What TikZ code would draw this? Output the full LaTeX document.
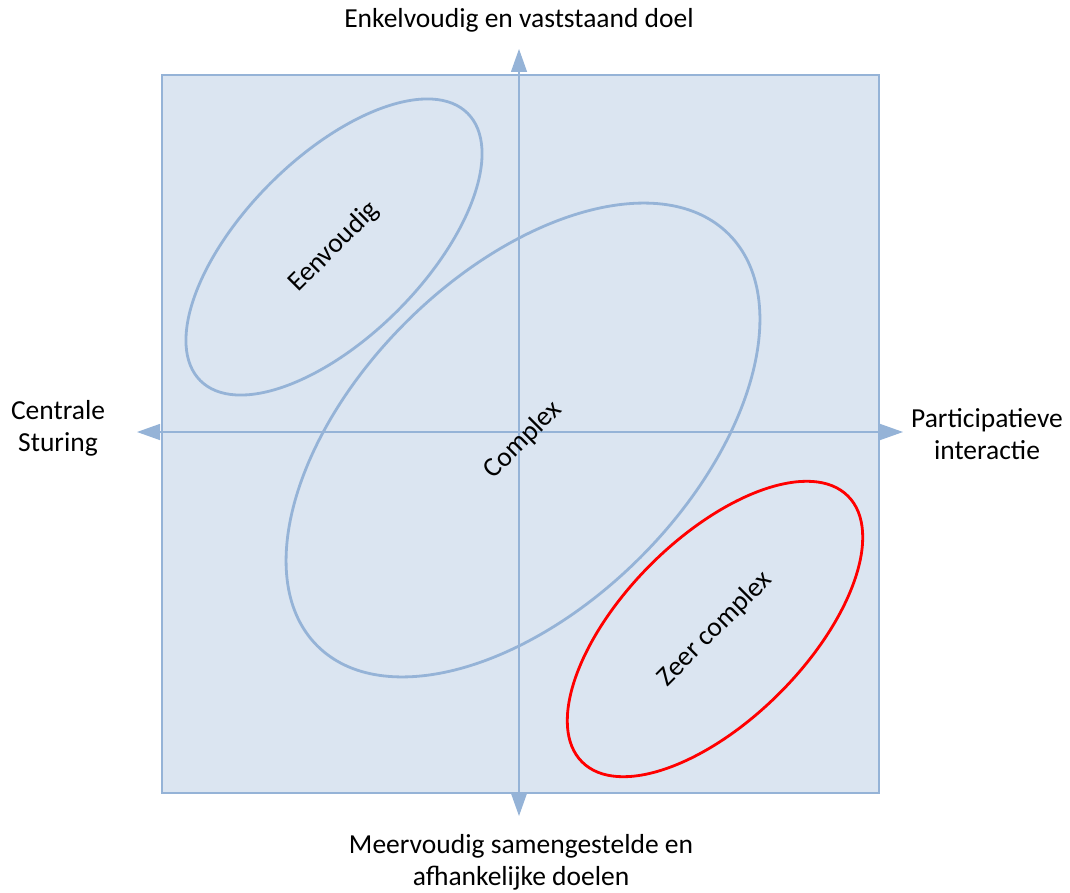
\documentclass[tikz,border=0pt]{standalone}
\usepackage{fontspec}
\setmainfont{Carlito}
\usetikzlibrary{shapes.geometric,arrows.meta}
\definecolor{boxfill}{HTML}{DBE5F1}
\definecolor{axisblue}{HTML}{95B3D7}
\tikzset{
  zone/.style={ellipse,draw=#1,line width=2.8pt,rotate=45,inner sep=0pt,font=\fontsize{27.5}{32}\selectfont},
  axislabel/.style={align=center,font=\fontsize{27.5}{32}\selectfont},
  axisarrow/.style={draw=axisblue,line width=1.3pt,{Triangle[length=23pt,width=16pt,fill=axisblue]}-{Triangle[length=23pt,width=16pt,fill=axisblue]}}
}
\begin{document}
\begin{tikzpicture}[x=1pt,y=-1pt]
     % Definitions
     \def\cx{519}
     \def\cy{432}
     \useasboundingbox (0,0) rectangle (1070,893);
     % Square
     \draw[fill=boxfill,draw=axisblue,line width=1.3pt] (162,75) rectangle (879,793);
     % Axes
     \coordinate (top) at (\cx,49);
     \coordinate (bottom) at (\cx,816);
     \coordinate (left) at (137,\cy);
     \coordinate (right) at (903,\cy);
     \draw[axisarrow] (top) -- (bottom);
     \draw[axisarrow] (left) -- (right);
     % Axis labels
     \node[axislabel] (doel) at (519,20) {Enkelvoudig en vaststaand doel};
     \node[axislabel] (sturing) at (58,428) {Centrale\\Sturing};
     \node[axislabel] (interactie) at (987,434) {Participatieve\\interactie};
     \node[axislabel] (doelen) at (521,862) {Meervoudig samengestelde en\\afhankelijke doelen};
     % Zones
     \node[zone=axisblue,minimum width=378pt,minimum height=180pt] (eenvoudig) at (334,247) {Eenvoudig};
     \node[zone=axisblue,minimum width=582pt,minimum height=332pt] (complex) at (523,440) {Complex};
     \node[zone=red,minimum width=376pt,minimum height=182pt] (zeer) at (715,629) {Zeer complex};
    \end{tikzpicture}
\end{document}
